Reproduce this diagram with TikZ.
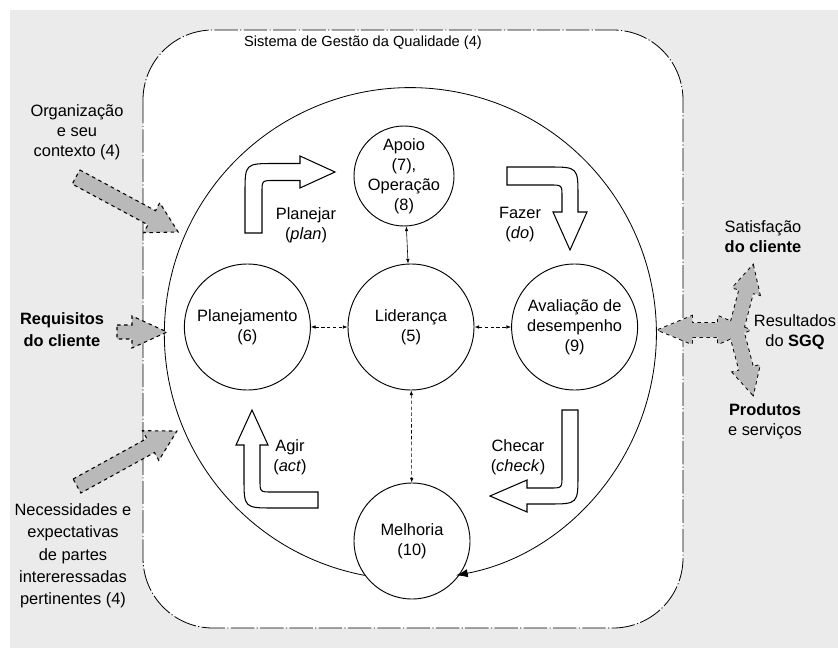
\documentclass[tikz,border=0pt]{standalone}
\usepackage{fontspec}
\setmainfont{Liberation Sans}
\usetikzlibrary{arrows.meta,positioning,calc}
\definecolor{BG}{HTML}{EBEBEB}
\definecolor{AR}{HTML}{B9B9B9}

\tikzset{
  proc/.style={circle, draw, line width=0.8pt, fill=white, inner sep=0pt,
    align=center, font=\fontsize{14}{17}\selectfont},
  pdca/.style={draw, line width=0.9pt, fill=white},
  side/.style={draw, dashed, line width=1.6pt, fill=AR},
  sidefill/.style={fill=AR, draw=none},
  link/.style={{Latex[length=4pt,width=3pt]}-{Latex[length=4pt,width=3pt]}, line width=0.5pt},
  lbl/.style={align=center, font=\fontsize{14}{17}\selectfont}
}

\begin{document}
\begin{tikzpicture}[x=0.03cm, y=-0.03cm]
  \useasboundingbox (0,0) rectangle (838,648);
  \fill[BG] (10,10) rectangle (838,648);
  % sistema
  \draw[fill=white, line width=0.7pt, dash pattern=on 20pt off 2pt on 1pt off 2pt,
    rounded corners=2.1cm] (143,30) rectangle (683,628);
  \node[font=\fontsize{12.5}{14}\selectfont] (titulo) at (363,43) {Sistema de Gestão da Qualidade (4)};

  % circulos
  \node[proc, minimum size=3.78cm] (lider) at (411,327) {Liderança\\(5)};
  \node[proc, minimum size=3.78cm, left=1.1cm of lider] (plan) {Planejamento\\(6)};
  \node[proc, minimum size=3.78cm, right=1.1cm of lider] (aval) {Avaliação de\\desempenho\\(9)};
  \node[proc, minimum size=3.0cm, inner sep=-5pt] (apoio) at (404,176) {Apoio\\(7),\\Operação\\(8)};
  \node[proc, minimum size=3.48cm] (melhoria) at (412,541) {Melhoria\\(10)};

  % ciclo
  \draw[line width=0.7pt, -{Latex[length=10pt,width=7pt]}]
    (melhoria.216.6) arc[start angle=259.3, end angle=-79.3, radius=7.38cm];

  \draw[link] (apoio) -- (lider);
  \draw[link, densely dashed] (plan) -- (lider);
  \draw[link, densely dashed] (lider) -- (aval);
  \draw[link, densely dashed] (lider) -- (melhoria);

  % PDCA
  \draw[pdca] (245,233) -- (245,193.5) .. controls (245,163.5) .. (275,163.5)
    -- (300,163.5) -- (300,156) -- (335,172) -- (300,188) -- (300,180.5)
    -- (274,180.5) .. controls (262,180.5) .. (262,192.5) -- (262,233) -- cycle;
  \draw[pdca] (507,167) -- (548,167) .. controls (578,167) .. (578,197)
    -- (578,212) -- (587,212) -- (570,250) -- (553,212) -- (562,212)
    -- (562,197) .. controls (562,185) .. (550,185) -- (507,185) -- cycle;
  \draw[pdca] (562,410) -- (578,410) -- (578,474) .. controls (578,504) .. (548,504)
    -- (527,504) -- (527,512) -- (490,496) -- (527,480) -- (527,488)
    -- (550,488) .. controls (562,488) .. (562,476) -- cycle;
  \draw[pdca] (318,492) -- (318,508) -- (274,508) .. controls (244,508) .. (244,478)
    -- (244,445) -- (236,445) -- (252,410) -- (268,445) -- (260,445)
    -- (260,480) .. controls (260,492) .. (272,492) -- cycle;

  \node[lbl] (planejar) at (306,225) {Planejar\\(\textit{plan})};
  \node[lbl] (fazer) at (520,225) {Fazer\\(\textit{do})};
  \node[lbl] (checar) at (518,457) {Checar\\(\textit{check})};
  \node[lbl] (agir) at (290,457) {Agir\\(\textit{act})};

  % entradas
  \node[lbl] (org) at (77,132) {Organização\\e seu\\contexto (4)};
  \node[lbl, font=\fontsize{14}{19}\selectfont\bfseries] (req) at (62,330) {Requisitos\\do cliente};
  \node[lbl, font=\fontsize{14}{19}\selectfont] (nec) at (73,556)
    {Necessidades e\\expectativas\\de partes\\intereressadas\\pertinentes (4)};

  \begin{scope}[shift={(76,177)}, rotate=-28.3]
    \draw[side, line width=0.9pt] (0,-8) -- (86,-8) -- (86,-17) -- (116,0) -- (86,17) -- (86,8) -- (0,8) -- cycle;
  \end{scope}
  \begin{scope}[shift={(117,332)}]
    \draw[side, line width=0.9pt] (0,-7) -- (15,-7) -- (15,-16) -- (50,0) -- (15,16) -- (15,7) -- (0,7) -- cycle;
  \end{scope}
  \begin{scope}[shift={(77,486)}, rotate=28.8]
    \draw[side, line width=0.9pt] (0,-8) -- (84,-8) -- (84,-17) -- (114,0) -- (84,17) -- (84,8) -- (0,8) -- cycle;
  \end{scope}

  % saidas
  \foreach \sty in {side,sidefill}{
    \draw[\sty] (658,330) -- (692,316) -- (692,323) -- (718,323) -- (718,316) -- (750,330)
      -- (718,344) -- (718,337) -- (692,337) -- (692,344) -- cycle;
    \foreach \a in {75.3,-75.3}
      \draw[\sty, shift={(736,330)}, rotate=\a] (0,-7) -- (40,-7) -- (40,-14) -- (67,0)
        -- (40,14) -- (40,7) -- (0,7) -- cycle;
  }

  \node[lbl] (sat) at (763,237) {Satisfação\\\textbf{do cliente}};
  \node[lbl] (res) at (795,332) {Resultados\\do \textbf{SGQ}};
  \node[lbl] (prod) at (765,421) {\textbf{Produtos}\\e serviços};
\end{tikzpicture}
\end{document}
